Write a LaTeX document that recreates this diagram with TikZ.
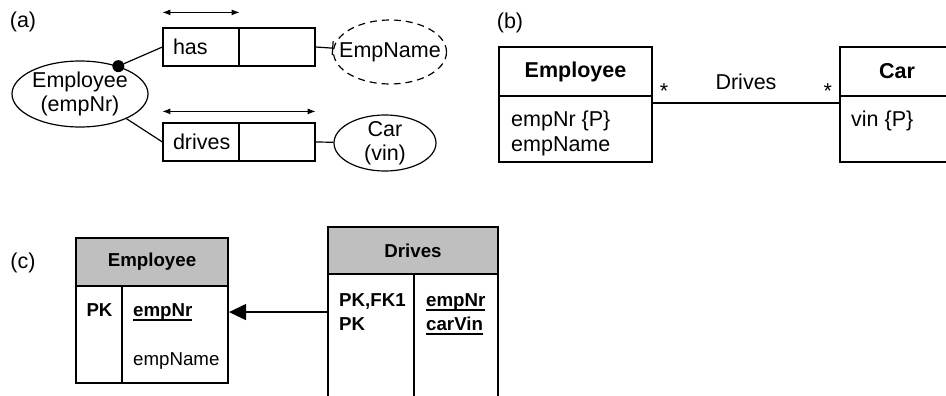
\documentclass[tikz,border=0pt]{standalone}
\usepackage{fontspec}
\setmainfont{Liberation Sans}
\usetikzlibrary{positioning,shapes.geometric,arrows.meta}
\newcommand\dfont{\fontsize{21.5}{24}\selectfont}
\newcommand\cfont{\fontsize{18.7}{22}\selectfont}
\newcommand\ulkey[1]{\setbox0\hbox{#1}\rlap{\rule[-5pt]{\wd0}{1.8pt}}\box0}
\tikzset{
  role cell/.style={
    draw, line width=1.2pt,
    text width=56pt, inner xsep=10pt,
    minimum height=38pt, align=left,
    font=\dfont,
  },
  object type/.style={
    ellipse, draw, line width=1.2pt,
    inner sep=0pt,
  },
  value type/.style={
    object type, dash pattern=on 7pt off 5pt,
  },
  type name/.style={
    align=center, font=\dfont,
  },
  mandatory dot/.style={
    circle, fill, inner sep=0pt, minimum size=12pt,
  },
  link/.style={line width=1.2pt},
  span/.style={
    {Latex[length=8pt,width=6pt]}-{Latex[length=8pt,width=6pt]},
    line width=1pt,
  },
  class head/.style={
    draw, line width=2pt,
    minimum height=49pt,
    font=\dfont\bfseries,
  },
  class body/.style={
    draw, line width=2pt,
    minimum height=66pt,
  },
  table head/.style={
    draw, line width=2pt, fill=black!25,
    minimum height=48pt,
    font=\cfont\bfseries,
  },
  table body/.style={
    draw, line width=2pt,
  },
  attr/.style={
    anchor=base west, inner sep=0pt,
    font=\dfont,
  },
  column/.style={
    anchor=base west, inner sep=0pt,
    font=\cfont,
  },
  key/.style={
    column, font=\cfont\bfseries,
  },
  fk/.style={
    -{Triangle[length=17pt,width=16pt]}, line width=1.2pt,
  },
  panel/.style={
    anchor=base, inner sep=0pt,
    font=\dfont,
  },
}

\begin{document}
\begin{tikzpicture}[x=1pt, y=-1pt]
        \path[use as bounding box, clip] (0,0) rectangle (946,396);

        % (a) ORM
        \node [panel] (lbla) at (23,28) {(a)};
        \node [object type, minimum width=136pt, minimum height=66pt,
          label={[type name]center:Employee\\(empNr)}] (emp) at (80,94) {};
        \node [role cell] (has) at (201,47) {has};
        \node [role cell, right=-1.2pt of has] (hasval) {};
        \node [role cell] (drives) at (201,142) {drives};
        \node [role cell, right=-1.2pt of drives] (drivesval) {};
        \node [value type, minimum width=113pt, minimum height=64pt,
          label={[type name]center:EmpName}] (empname) at (390,52) {};
        \node [object type, minimum width=102pt, minimum height=56pt,
          label={[type name]center:Car\\(vin)}] (car) at (385,143) {};
        \node [mandatory dot] (mand) at (emp.36) {};

        \draw [link] (mand) -- (has.west);
        \draw [link] (emp.-28) -- (drives.west);
        \draw [link, -{Bar[width=14pt]}] (hasval.east) -- (empname);
        \draw [link] (drivesval.east) -- (car);
        \draw [span] ([yshift=15pt]has.north west) -- ([yshift=15pt]has.north east);
        \draw [span] ([yshift=11pt]drives.north west) -- ([yshift=11pt]drivesval.north east);

        % (b) UML
        \node [panel] (lblb) at (510,29) {(b)};
        \node [class head, minimum width=153pt] (clsemp) at (575.5,71.5) {Employee};
        \node [class body, minimum width=153pt, below=-2pt of clsemp] (clsempbody) {};
        \node [class head, minimum width=114pt] (clscar) at (897,71.5) {Car};
        \node [class body, minimum width=114pt, below=-2pt of clscar] (clscarbody) {};
        \node [attr] (attrnr) at (511,127) {empNr \{P\}};
        \node [attr] (attrname) at (511,151) {empName};
        \node [attr] (attrvin) at (851,127) {vin \{P\}};

        \draw [link] ([yshift=-8pt]clsempbody.north east) -- node [above=9pt, font=\dfont] (assoc) {Drives}
          ([yshift=-8pt]clscarbody.north west)
          node [pos=0.06, above=1pt, font=\dfont] (multemp) {*}
          node [pos=0.94, above=1pt, font=\dfont] (multcar) {*};

        % (c) relational
        \node [panel] (lblc) at (23,268) {(c)};
        \node [table head, minimum width=152pt] (tblemp) at (152,262) {Employee};
        \node [table body, minimum width=152pt, minimum height=97pt, below=-2pt of tblemp] (tblempbody) {};
        \node [table head, minimum width=170pt, minimum height=47pt] (tbldrv) at (413,250.5) {Drives};
        \node [table body, minimum width=170pt, minimum height=160pt, below=-2pt of tbldrv] (tbldrvbody) {};
        \draw [line width=1.2pt] ([xshift=47pt]tblempbody.north west) -- ([xshift=47pt]tblempbody.south west);
        \draw [line width=1.2pt] ([xshift=87pt]tbldrvbody.north west) -- ([xshift=87pt]tbldrvbody.south west);

        \node [key, anchor=base] (pkemp) at (99.5,316) {PK};
        \node [key] (keyemp) at (133,316) {\ulkey{empNr}};
        \node [column] (fldname) at (133,365) {empName};
        \node [key] (pkdrv1) at (339,306) {PK,FK1};
        \node [key] (pkdrv2) at (339,330) {PK};
        \node [key] (keydrv1) at (426,306) {\ulkey{empNr}};
        \node [key] (keydrv2) at (426,330) {\ulkey{carVin}};

        \draw [fk] (tbldrvbody.west |- keyemp) -- (tblempbody.east |- keyemp);
\end{tikzpicture}
\end{document}
